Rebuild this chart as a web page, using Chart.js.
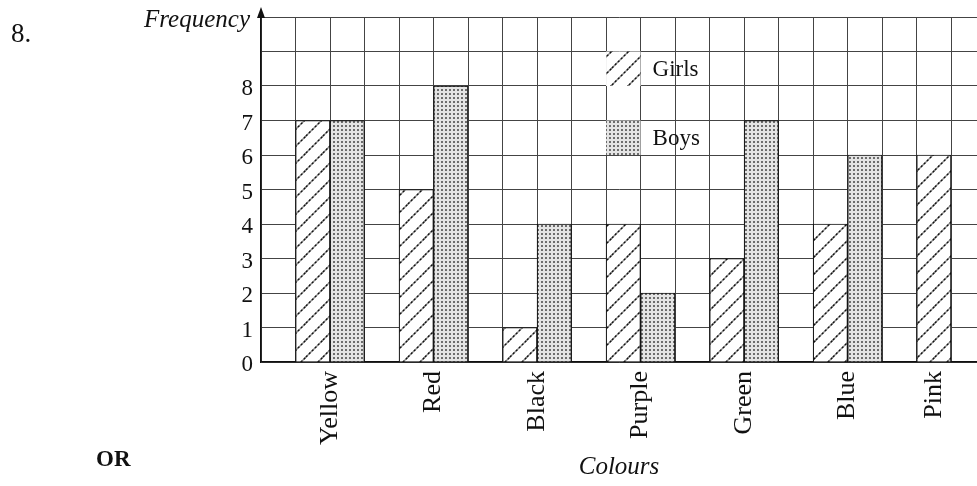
<!DOCTYPE html>
<html>
<head>
<meta charset="utf-8">
<script src="https://cdn.jsdelivr.net/npm/chart.js@4.4.1/dist/chart.umd.min.js"></script>
<style>
html,body{margin:0;padding:0;background:#fff;}
#wrap{width:977px;height:486px;position:relative;}
</style>
</head>
<body>
<div id="wrap"><canvas id="c" width="977" height="486"></canvas></div>
<script>
// ---- data ----
const categories = ['Yellow', 'Red', 'Black', 'Purple', 'Green', 'Blue', 'Pink'];
const girls = [7, 5, 1, 4, 3, 4, 6];
const boys  = [7, 8, 4, 2, 7, 6, 0];
const seriesNames = ['Girls', 'Boys'];
const yLabelMax = 8;    // highest labelled tick
const yAxisMax = 10;    // grid continues to here
const xTitle = 'Colours';
const yTitle = 'Frequency';

const SERIF = "'Liberation Serif', 'DejaVu Serif', serif";

function hatchPattern() {
  const s = 17;
  const c = document.createElement('canvas');
  c.width = s; c.height = s;
  const g = c.getContext('2d');
  g.fillStyle = '#fff';
  g.fillRect(0, 0, s, s);
  const lines = [[0, s, s, 0], [-3, 3, 3, -3], [s - 3, s + 3, s + 3, s - 3]];
  g.lineCap = 'butt';
  g.strokeStyle = '#8a8a8a';
  g.lineWidth = 1.4;
  g.beginPath();
  lines.forEach(l => { g.moveTo(l[0], l[1]); g.lineTo(l[2], l[3]); });
  g.stroke();
  g.strokeStyle = '#111';
  g.setLineDash([2, 2.2]);
  g.beginPath();
  lines.forEach(l => { g.moveTo(l[0], l[1]); g.lineTo(l[2], l[3]); });
  g.stroke();
  return g.createPattern(c, 'repeat');
}

function dotPattern() {
  const s = 4;
  const c = document.createElement('canvas');
  c.width = s; c.height = s;
  const g = c.getContext('2d');
  g.fillStyle = '#e4e4e4';
  g.fillRect(0, 0, s, s);
  g.fillStyle = '#3a3a3a';
  g.beginPath();
  g.arc(2, 2, 0.95, 0, Math.PI * 2);
  g.fill();
  return g.createPattern(c, 'repeat');
}

const girlsFill = hatchPattern();
const boysFill = dotPattern();

const legendPlugin = {
  id: 'boxLegend',
  afterDatasetsDraw(chart) {
    const ctx = chart.ctx;
    const xs = chart.scales.x, ys = chart.scales.y;
    const fills = [girlsFill, boysFill];
    const rows = [[9, 8], [7, 6]];
    const xl = xs.getPixelForValue(3 - 1 / 3), xr = xs.getPixelForValue(3);
    ctx.save();
    rows.forEach((r, i) => {
      const yt = ys.getPixelForValue(r[0]), yb = ys.getPixelForValue(r[1]);
      ctx.fillStyle = fills[i];
      ctx.fillRect(xl, yt, xr - xl, yb - yt);
      ctx.fillStyle = '#111';
      ctx.font = '23px ' + SERIF;
      ctx.textBaseline = 'middle';
      ctx.textAlign = 'left';
      ctx.fillText(seriesNames[i], xr + 12, (yt + yb) / 2 + 1);
    });
    ctx.restore();
  }
};

const decoPlugin = {
  id: 'deco',
  afterDraw(chart) {
    const ctx = chart.ctx;
    const a = chart.chartArea;
    ctx.save();
    ctx.fillStyle = '#111';
    ctx.strokeStyle = '#111';
    ctx.lineWidth = 1.5;
    ctx.beginPath();
    ctx.moveTo(a.left, a.top);
    ctx.lineTo(a.left, a.top - 6);
    ctx.stroke();
    ctx.beginPath();
    ctx.moveTo(a.left, a.top - 10);
    ctx.lineTo(a.left - 4, a.top + 1);
    ctx.lineTo(a.left + 4, a.top + 1);
    ctx.closePath();
    ctx.fill();
    ctx.textBaseline = 'alphabetic';
    ctx.font = 'italic 25px ' + SERIF;
    ctx.textAlign = 'right';
    ctx.fillText(yTitle, a.left - 11, 27);
    ctx.textAlign = 'left';
    ctx.font = '27px ' + SERIF;
    ctx.fillText('8.', 11, 42);
    ctx.font = 'bold 23px ' + SERIF;
    ctx.fillText('OR', 96, 466);
    ctx.restore();
  }
};

// a category with only one bar gets its label under that single bar
const singleBar = (i) => !(boys[i] > 0);

const chart = new Chart(document.getElementById('c'), {
  type: 'bar',
  data: {
    datasets: [
      {
        label: seriesNames[0],
        data: girls.map((v, i) => ({ x: i, y: v })),
        backgroundColor: girlsFill,
        borderColor: '#111',
        borderWidth: 1.2
      },
      {
        label: seriesNames[1],
        data: boys.map((v, i) => ({ x: i, y: v })),
        backgroundColor: boysFill,
        borderColor: '#111',
        borderWidth: 1.2
      }
    ]
  },
  options: {
    responsive: false,
    animation: false,
    barThickness: 'flex',
    categoryPercentage: 2 / 3,
    barPercentage: 1,
    layout: { padding: { top: 17, left: 0, right: 0, bottom: 0 } },
    plugins: {
      legend: { display: false },
      tooltip: { enabled: false },
      title: { display: false }
    },
    scales: {
      x: {
        type: 'linear',
        offset: false,
        min: -2 / 3,
        max: 6.25,
        z: 1,
        afterBuildTicks(axis) {
          const t = [];
          for (let k = -2; k <= 18; k++) {
            t.push({ value: k / 3 });
            if (k % 3 === 0 && singleBar(k / 3)) t.push({ value: k / 3 - 1 / 6, labelOnly: true, cat: k / 3 });
          }
          t.sort((a, b) => a.value - b.value);
          axis.ticks = t;
        },
        afterFit(scale) {
          scale.height = 124;
          scale.paddingLeft = 0; scale.paddingRight = 0;
          scale.paddingTop = 0; scale.paddingBottom = 0;
        },
        ticks: {
          autoSkip: false,
          minRotation: 90,
          maxRotation: 90,
          padding: 9,
          color: '#111',
          font: { family: SERIF, size: 26 },
          callback(v, idx, ticks) {
            const tk = ticks[idx];
            if (tk && tk.labelOnly) return categories[tk.cat];
            const r = Math.round(v);
            return (Math.abs(v - r) < 1e-6 && categories[r] !== undefined && !singleBar(r)) ? categories[r] : '';
          }
        },
        grid: {
          color: (ctx) => (ctx.tick && ctx.tick.labelOnly) ? 'rgba(0,0,0,0)' : '#444',
          lineWidth: 1, drawTicks: false, offset: false
        },
        border: { color: '#111', width: 1.5 },
        title: {
          display: true,
          text: xTitle,
          color: '#111',
          font: { family: SERIF, size: 25, style: 'italic' },
          padding: { top: 0, bottom: 4 }
        }
      },
      y: {
        min: 0,
        max: yAxisMax,
        z: 1,
        afterFit(scale) {
          scale.width = 261;
          scale.paddingLeft = 0; scale.paddingRight = 0;
          scale.paddingTop = 0; scale.paddingBottom = 0;
        },
        ticks: {
          stepSize: 1,
          padding: 8,
          labelOffset: 3,
          color: '#111',
          font: { family: SERIF, size: 23 },
          callback(v) { return v <= yLabelMax ? String(v) : ''; }
        },
        grid: { color: '#444', lineWidth: 1, drawTicks: false },
        border: { color: '#111', width: 1.5 }
      }
    }
  },
  plugins: [legendPlugin, decoPlugin]
});
</script>
</body>
</html>
